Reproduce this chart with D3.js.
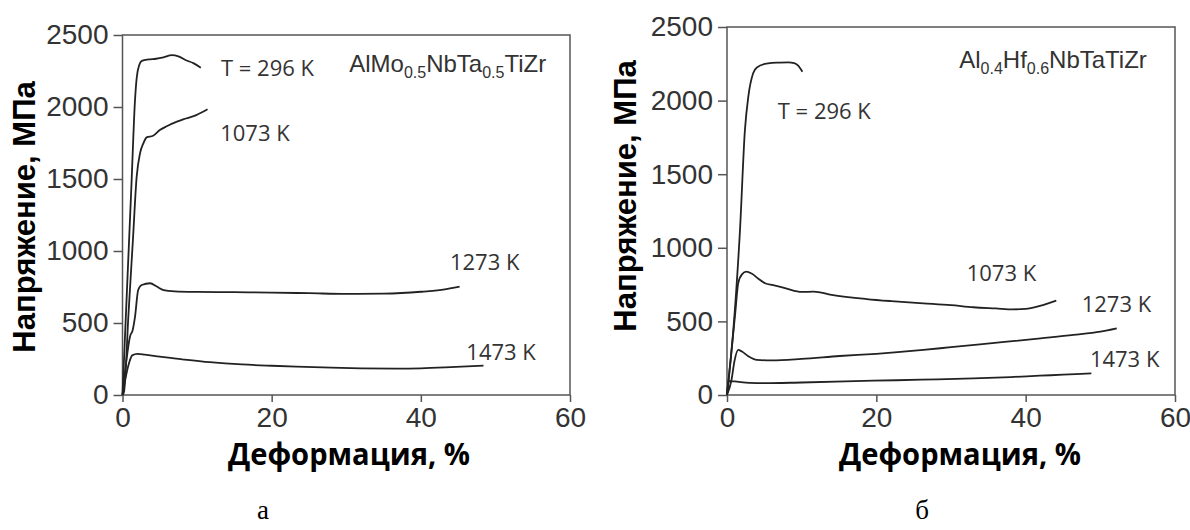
<!DOCTYPE html>
<html lang="ru">
<head>
<meta charset="utf-8">
<title>Кривые напряжение–деформация</title>
<script src="https://cdn.jsdelivr.net/npm/d3@7"></script>
<style>
  html, body { margin: 0; padding: 0; background: #fff; }
  svg { display: block; }
</style>
</head>
<body>
<svg id="chart" width="1190" height="530"></svg>
<script>
// ---- Data: compression curves, strain (%) vs stress (MPa) ----
const strainTicks = [0, 20, 40, 60];
const stressTicks = [0, 500, 1000, 1500, 2000, 2500];

const alloyA = ["AlMo", "0.5", "NbTa", "0.5", "TiZr"];
const alloyB = ["Al", "0.4", "Hf", "0.6", "NbTaTiZr"];

const tempLabels = ["T = 296 K", "1073 K", "1273 K", "1473 K"];

// Panel а: AlMo0.5NbTa0.5TiZr
const a296 = [[0,0],[0.6,730],[1.2,1460],[1.68,2050],[1.9,2200],[2.25,2292],[2.6,2320],[3.5,2330],[4.5,2335],[5.5,2345],[6.6,2360],[7.5,2352],[8.5,2325],[9.5,2305],[10.5,2273]];
const a1073 = [[0,0],[0.2,20],[0.8,560],[1.4,1080],[1.9,1516],[2.35,1678],[2.8,1748],[3.24,1789],[4.1,1800],[5.0,1840],[6.0,1868],[7.3,1898],[8.5,1920],[9.9,1944],[11.4,1984]];
const a1273 = [[0,0],[0.5,230],[1.0,405],[1.37,451],[1.68,544],[2.1,729],[2.57,764],[3.7,776],[4.6,753],[5.5,729],[7,720],[10,716],[15,714],[20,711],[25,707],[30,702],[35,704],[40,717],[43,732],[45.2,752]];
const a1473 = [[0,0],[0.5,140],[0.9,225],[1.3,275],[2.0,285],[3.0,280],[5.0,266],[8,248],[11.7,228],[16,212],[20,203],[23.3,197],[28,190],[32,185],[36.7,183],[40,185],[44,193],[48.4,204]];

// Panel б: Al0.4Hf0.6NbTaTiZr
const b296 = [[0,0],[0.85,442],[1.74,1121],[2.4,1800],[2.85,2026],[3.5,2186],[4.0,2225],[5.5,2253],[7,2258],[8.2,2260],[9.0,2255],[9.5,2240],[10.1,2196]];
const b1073 = [[0,0],[0.6,300],[1.1,555],[1.5,759],[2.0,820],[2.6,838],[3.3,825],[4.2,790],[5.1,759],[6.2,747],[8,722],[10,700],[11.6,702],[14,680],[18.7,652],[22,638],[26.3,623],[30,610],[33,596],[36,588],[38.3,582],[40,585],[41.9,605],[44.1,641]];
const b1273 = [[0,0],[0.6,102],[1.0,230],[1.5,306],[2.0,295],[2.8,265],[4.0,238],[6,235],[10,245],[15.1,265],[20,280],[26.3,306],[30,325],[37.5,362],[42,385],[46.4,408],[50,430],[52.2,453]];
const b1473 = [[0,0],[0.2,95],[1,92],[3,82],[5,80],[10,85],[19.6,97],[26,104],[33,113],[38,122],[41.9,131],[45,138],[48.8,147]];

// ---- Layout ----
const panels = [
  {
    box: { left: 122.5, right: 570, top: 35, bottom: 395 },
    curves: [a296, a1073, a1273, a1473],
    // label anchors in data units (strain %, stress MPa)
    labelAt: [[13.2, 2271], [13.1, 1819], [43.9, 924], [46.1, 299]],
    alloy: alloyA, alloyAt: [30.4, 2243],
    yTitle: { x: 35, y: 217 },
    xTitleX: 349,
    letter: "а", letterX: 263
  },
  {
    box: { left: 727, right: 1175, top: 27, bottom: 395 },
    curves: [b296, b1073, b1273, b1473],
    labelAt: [[6.8, 1929], [32.1, 829], [47.5, 618], [48.6, 245]],
    alloy: alloyB, alloyAt: [31.1, 2221],
    yTitle: { x: 636, y: 196 },
    xTitleX: 960,
    letter: "б", letterX: 922
  }
];

const svg = d3.select("#chart");
svg.append("rect").attr("width", 1190).attr("height", 530).attr("fill", "#fff");

const tickFont = "'Liberation Sans', Arial, sans-serif";
const labelFont = "'Open Sans', 'Liberation Sans', sans-serif";

panels.forEach(p => {
  const x = d3.scaleLinear().domain([0, 60]).range([p.box.left, p.box.right]);
  const y = d3.scaleLinear().domain([0, 2500]).range([p.box.bottom, p.box.top]);
  const g = svg.append("g");

  // axes
  const yAxis = d3.axisLeft(y).tickValues(stressTicks).tickFormat(d3.format("d"))
    .tickSize(9).tickPadding(5).tickSizeOuter(0);
  const xAxis = d3.axisBottom(x).tickValues(strainTicks).tickFormat(d3.format("d"))
    .tickSize(7).tickPadding(5).tickSizeOuter(0);

  const gy = g.append("g").attr("transform", `translate(${p.box.left},0)`).call(yAxis);
  const gx = g.append("g").attr("transform", `translate(0,${p.box.bottom})`).call(xAxis);
  [gy, gx].forEach(a => {
    a.select(".domain").remove();
    a.selectAll(".tick line").attr("stroke", "#555").attr("stroke-width", 1.5);
    a.selectAll(".tick text")
      .attr("fill", "#333")
      .style("font-family", tickFont)
      .style("font-size", "28px");
  });

  // frame
  g.append("rect")
    .attr("x", p.box.left).attr("y", p.box.top)
    .attr("width", p.box.right - p.box.left)
    .attr("height", p.box.bottom - p.box.top)
    .attr("fill", "none").attr("stroke", "#555").attr("stroke-width", 1.5);

  // curves
  const line = d3.line()
    .x(d => x(d[0])).y(d => y(d[1]))
    .curve(d3.curveMonotoneX);
  g.selectAll("path.curve").data(p.curves).join("path")
    .attr("class", "curve")
    .attr("d", line)
    .attr("fill", "none")
    .attr("stroke", "#222")
    .attr("stroke-width", 1.8)
    .attr("stroke-linejoin", "round");

  // temperature labels
  g.selectAll("text.temp").data(tempLabels).join("text")
    .attr("class", "temp")
    .attr("x", (d, i) => x(p.labelAt[i][0]))
    .attr("y", (d, i) => y(p.labelAt[i][1]))
    .attr("dy", "0.36em")
    .attr("fill", "#333")
    .style("font-family", labelFont)
    .style("font-size", "22px")
    .text(d => d);

  // alloy composition with subscripts
  const t = g.append("text")
    .attr("x", x(p.alloyAt[0])).attr("y", y(p.alloyAt[1]))
    .attr("fill", "#333")
    .style("font-family", tickFont)
    .style("font-size", "24px");
  p.alloy.forEach((part, i) => {
    const sub = i % 2 === 1;
    t.append("tspan")
      .attr("dy", sub ? 6 : (i === 0 ? 0 : -6))
      .style("font-size", sub ? "16px" : "24px")
      .text(part);
  });

  // axis titles
  svg.append("text")
    .attr("transform", `translate(${p.yTitle.x},${p.yTitle.y}) rotate(-90)`)
    .attr("text-anchor", "middle")
    .attr("fill", "#000")
    .style("font-family", tickFont)
    .style("font-weight", "bold")
    .style("font-size", "31px")
    .text("Напряжение, МПа");

  svg.append("text")
    .attr("x", p.xTitleX).attr("y", 465)
    .attr("text-anchor", "middle")
    .attr("fill", "#000")
    .attr("textLength", 242)
    .attr("lengthAdjust", "spacingAndGlyphs")
    .style("font-family", labelFont)
    .style("font-weight", "bold")
    .style("font-size", "30px")
    .text("Деформация, %");

  // panel letter
  svg.append("text")
    .attr("x", p.letterX).attr("y", 519)
    .attr("text-anchor", "middle")
    .attr("fill", "#000")
    .style("font-family", "'Liberation Serif', 'Times New Roman', serif")
    .style("font-size", "27px")
    .text(p.letter);
});
</script>
</body>
</html>
